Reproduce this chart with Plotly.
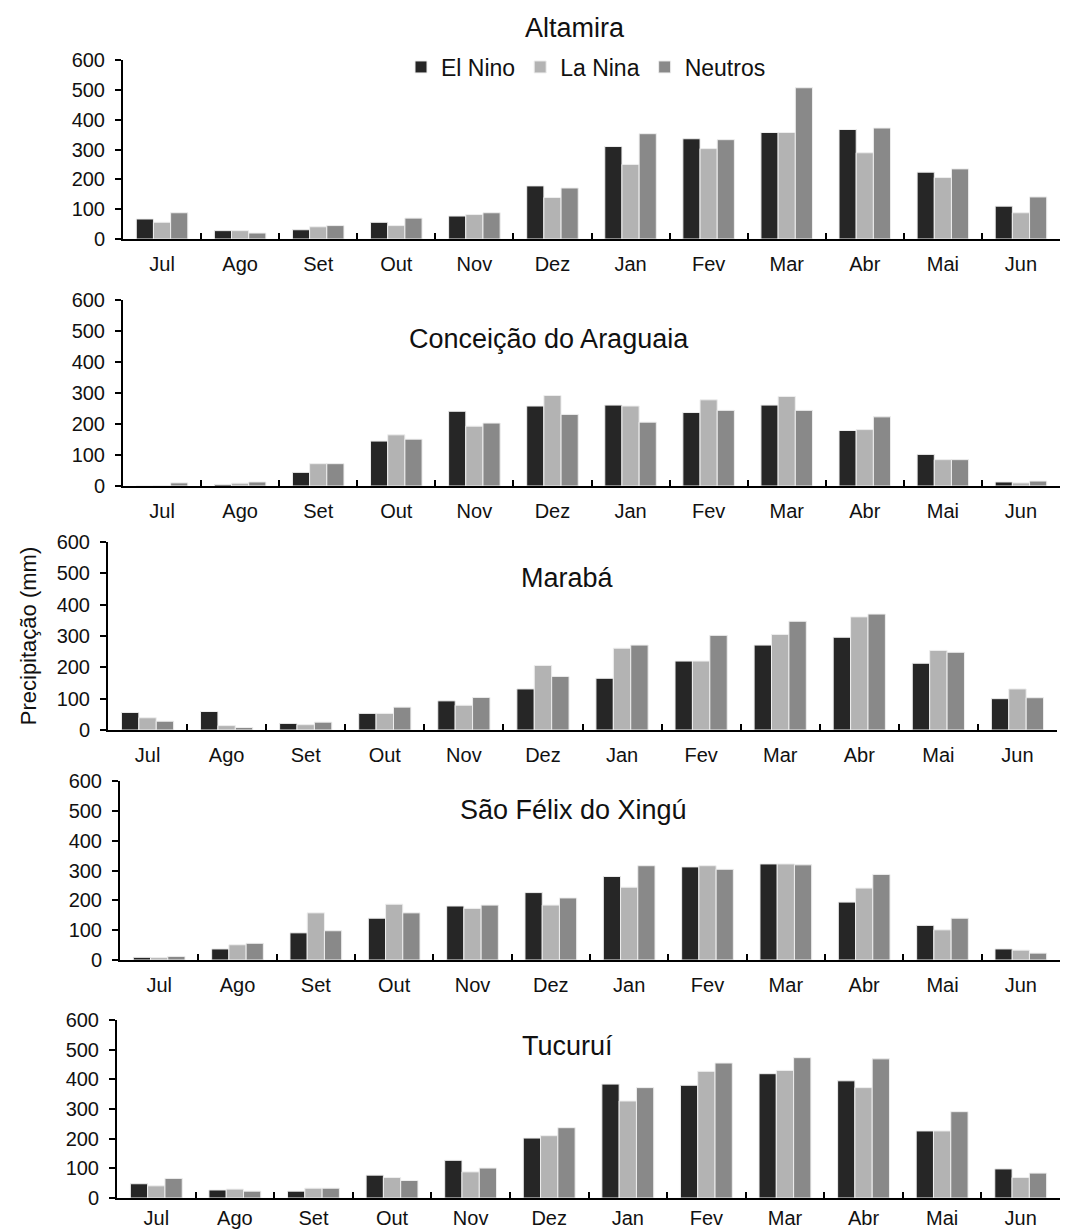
import plotly.graph_objects as go

months = ["Jul", "Ago", "Set", "Out", "Nov", "Dez", "Jan", "Fev", "Mar", "Abr", "Mai", "Jun"]
series_names = ["El Nino", "La Nina", "Neutros"]
stations = ["Altamira", "Conceição do Araguaia", "Marabá", "São Félix do Xingú", "Tucuruí"]

altamira_el_nino = [67, 28, 31, 56, 77, 178, 310, 336, 357, 367, 224, 110]
altamira_la_nina = [56, 28, 41, 45, 82, 139, 250, 303, 357, 289, 206, 88]
altamira_neutros = [88, 20, 45, 70, 88, 171, 353, 333, 507, 372, 235, 141]

conceicao_el_nino = [0, 5, 44, 145, 241, 258, 261, 237, 261, 179, 102, 13]
conceicao_la_nina = [1, 9, 72, 165, 193, 292, 258, 278, 289, 182, 85, 10]
conceicao_neutros = [10, 13, 72, 151, 203, 231, 206, 244, 244, 223, 85, 16]

maraba_el_nino = [56, 59, 21, 53, 93, 131, 165, 220, 271, 296, 213, 100]
maraba_la_nina = [39, 14, 17, 53, 79, 206, 261, 220, 305, 361, 254, 131]
maraba_neutros = [28, 8, 25, 73, 104, 171, 271, 302, 347, 370, 248, 103]

sao_felix_el_nino = [9, 37, 91, 140, 181, 226, 280, 312, 322, 194, 116, 37]
sao_felix_la_nina = [8, 51, 158, 187, 173, 184, 244, 316, 322, 241, 101, 33]
sao_felix_neutros = [12, 56, 98, 158, 184, 208, 316, 304, 319, 287, 140, 23]

tucurui_el_nino = [48, 27, 23, 77, 127, 202, 384, 380, 419, 395, 226, 98]
tucurui_la_nina = [41, 30, 33, 69, 88, 210, 327, 427, 430, 372, 226, 69]
tucurui_neutros = [66, 23, 33, 59, 101, 237, 372, 455, 473, 469, 291, 84]

data = [
    (altamira_el_nino, altamira_la_nina, altamira_neutros),
    (conceicao_el_nino, conceicao_la_nina, conceicao_neutros),
    (maraba_el_nino, maraba_la_nina, maraba_neutros),
    (sao_felix_el_nino, sao_felix_la_nina, sao_felix_neutros),
    (tucurui_el_nino, tucurui_la_nina, tucurui_neutros),
]

colors = ["#262626", "#b3b3b3", "#898989"]
y_ticks = [0, 100, 200, 300, 400, 500, 600]

W, H = 1065, 1232
FONT = "Liberation Sans, Arial, sans-serif"

# panel pixel boxes: (left, right, top, bottom)
boxes = [
    (123, 1060, 60, 239),
    (123, 1060, 300, 486),
    (108, 1057, 542, 730),
    (120, 1060, 781, 960),
    (117, 1060, 1020, 1198),
]
label_standoff = [6, 6, 6, 6, 1]
# title positions (center x, center y) in pixels
title_pos = [(575, 28), (549, 339), (567, 578), (573, 810), (567, 1046)]

fig = go.Figure()
layout = dict(
    width=W, height=H,
    template="none",
    margin=dict(l=0, r=0, t=0, b=0, autoexpand=False),
    paper_bgcolor="white", plot_bgcolor="white",
    barmode="group", bargap=0.34, bargroupgap=0,
    font=dict(family=FONT, color="#111111"),
    showlegend=True,
    legend=dict(orientation="h", x=586 / W, y=1 - 67 / H, xanchor="center", yanchor="middle",
                font=dict(size=23, family=FONT, color="#111111"), bgcolor="rgba(0,0,0,0)",
                itemwidth=30, tracegroupgap=0),
)
annotations = []

for i, (vals, box) in enumerate(zip(data, boxes)):
    xa = "x" if i == 0 else f"x{i+1}"
    ya = "y" if i == 0 else f"y{i+1}"
    for j in range(3):
        fig.add_trace(go.Bar(
            x=months, y=vals[j], name=series_names[j],
            marker=dict(color=colors[j], line=dict(color="#eeeeee", width=1)),
            xaxis=xa, yaxis=ya, showlegend=(i == 0), legendgroup=series_names[j],
        ))
    l, r, t, b = box
    xkey = "xaxis" if i == 0 else f"xaxis{i+1}"
    ykey = "yaxis" if i == 0 else f"yaxis{i+1}"
    layout[xkey] = dict(
        domain=[l / W, r / W], anchor=ya, type="category", automargin=False,
        categoryorder="array", categoryarray=months,
        showline=True, linecolor="black", linewidth=2,
        ticks="inside", tickson="boundaries", ticklen=6, tickwidth=2, tickcolor="black",
        tickfont=dict(size=20, family=FONT, color="#111111"),
        ticklabelstandoff=label_standoff[i], showgrid=False, zeroline=False, fixedrange=True,
    )
    layout[ykey] = dict(
        domain=[1 - b / H, 1 - t / H], anchor=xa, range=[0, 600], automargin=False,
        tickvals=y_ticks, ticktext=[str(v) for v in y_ticks],
        showline=True, linecolor="black", linewidth=2,
        ticks="outside", ticklen=6, tickwidth=2, tickcolor="black",
        tickfont=dict(size=20, family=FONT, color="#111111"),
        ticklabelstandoff=6, showgrid=False, zeroline=False, fixedrange=True,
    )
    if i == 2:
        layout[ykey]["title"] = dict(text="Precipitação (mm)", font=dict(size=22, family=FONT),
                                     standoff=14)
    tx, ty = title_pos[i]
    annotations.append(dict(text=stations[i], x=tx / W, y=1 - ty / H, xref="paper", yref="paper",
                            xanchor="center", yanchor="middle", showarrow=False,
                            font=dict(size=27, family=FONT, color="#111111")))

layout["annotations"] = annotations
fig.update_layout(**layout)
fig.write_html("out.html")
